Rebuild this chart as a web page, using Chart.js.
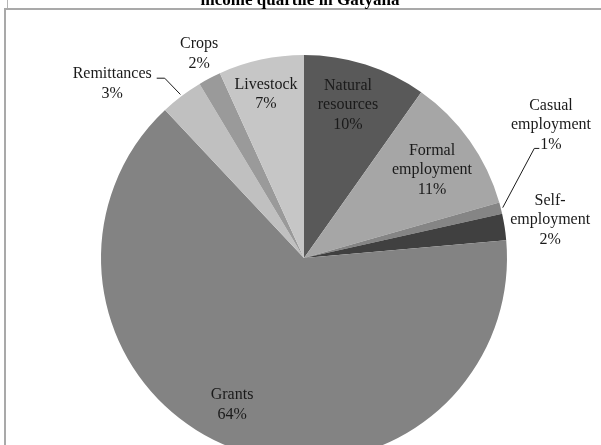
<!DOCTYPE html>
<html>
<head>
<meta charset="utf-8">
<script src="https://cdn.jsdelivr.net/npm/chart.js@4.4.1/dist/chart.umd.min.js"></script>
<style>
  html, body { margin: 0; padding: 0; background: #fff; width: 601px; height: 445px; overflow: hidden; }
  #wrap { position: relative; width: 601px; height: 445px; overflow: hidden; }
  #frame { position: absolute; left: 4px; top: 8px; width: 600px; height: 460px;
           border-top: 2px solid #a9a9a9; border-left: 2px solid #a9a9a9; }
  #titleEdge { position: absolute; left: 7px; top: 0; width: 1px; height: 8px; background: #b5b5b5; }
  canvas { position: absolute; left: 0; top: 0; }
</style>
</head>
<body>
<div id="wrap">
  <div id="frame"></div>
  <div id="titleEdge"></div>
  <canvas id="incomeSourceChart" width="601" height="470"></canvas>
</div>
<script>
const chartTitle = 'income quartile in Gatyana';

const sources = ['Natural resources', 'Formal employment', 'Casual employment', 'Self-employment',
                 'Grants', 'Remittances', 'Crops', 'Livestock'];
// share of household income, per cent
const shares = [9.8, 10.8, 0.9, 2.1, 64.4, 3.4, 1.8, 6.8];
const sliceColors = ['#595959', '#a6a6a6', '#858585', '#404040',
                     '#838383', '#c0c0c0', '#9a9a9a', '#c6c6c6'];

// how each source name is broken over lines
const labelLines = [['Natural', 'resources'], ['Formal', 'employment'], ['Casual', 'employment'],
                    ['Self-', 'employment'], ['Grants'], ['Remittances'], ['Crops'], ['Livestock']];

// label placement: k = distance from centre in radii, da = turn from slice middle (deg), lead = leader line
const labelPlace = [
  { k: 0.784, da: -1.6 },
  { k: 0.765, da: 0.8 },
  { k: 1.382, da: -14.1, lead: true },
  { k: 1.227, da: 0 },
  { k: 0.806, da: 5.2 },
  { k: 1.276, da: -10.7, lead: true },
  { k: 1.13, da: 0.5 },
  { k: 0.829, da: -0.8 }
];

const serif = '"Liberation Serif", "Times New Roman", serif';

const pieLabels = {
  id: 'pieLabels',
  afterDatasetsDraw(chart) {
    const ctx = chart.ctx;
    const meta = chart.getDatasetMeta(0);
    const total = shares.reduce((a, b) => a + b, 0);
    const lineH = 19.5;
    ctx.save();
    ctx.font = '16px ' + serif;
    ctx.fillStyle = '#1a1a1a';
    ctx.strokeStyle = '#1a1a1a';
    ctx.lineWidth = 1;
    ctx.textAlign = 'center';
    ctx.textBaseline = 'middle';
    meta.data.forEach((arc, i) => {
      const p = labelPlace[i];
      const mid = (arc.startAngle + arc.endAngle) / 2;
      const a = mid + p.da * Math.PI / 180;
      const r = arc.outerRadius;
      const cx = arc.x + Math.cos(a) * r * p.k;
      const cy = arc.y + Math.sin(a) * r * p.k;
      const lines = labelLines[i].concat([Math.round(shares[i] / total * 100) + '%']);
      const top = cy - (lines.length - 1) * lineH / 2;
      lines.forEach((t, j) => ctx.fillText(t, cx, top + j * lineH));

      if (p.lead) {
        const ex = arc.x + Math.cos(mid) * (r + 2);
        const ey = arc.y + Math.sin(mid) * (r + 2);
        let tx, ty, bx;
        if (ex > cx) {
          // pie is to the right: attach to the first line's right end
          tx = cx + ctx.measureText(lines[0]).width / 2 + 5;
          ty = top + 4;
          bx = tx + 8;
        } else {
          // pie is to the left: attach to the last line's left end
          const last = lines[lines.length - 1];
          tx = cx - ctx.measureText(last).width / 2 - 1;
          ty = top + (lines.length - 1) * lineH + 4;
          bx = tx - 5;
        }
        ctx.beginPath();
        ctx.moveTo(tx, ty);
        ctx.lineTo(bx, ty);
        ctx.lineTo(ex, ey);
        ctx.stroke();
      }
    });

    ctx.font = 'bold 17px ' + serif;
    ctx.textBaseline = 'alphabetic';
    ctx.fillStyle = '#000';
    ctx.fillText(chartTitle, 300, 5);
    ctx.restore();
  }
};

new Chart(document.getElementById('incomeSourceChart'), {
  type: 'pie',
  data: {
    labels: sources,
    datasets: [{
      data: shares,
      backgroundColor: sliceColors,
      borderWidth: 0
    }]
  },
  options: {
    responsive: false,
    animation: false,
    layout: { padding: { left: 101, right: 94, top: 55, bottom: 9 } },
    plugins: {
      legend: { display: false },
      tooltip: { enabled: false }
    }
  },
  plugins: [pieLabels]
});
</script>
</body>
</html>
